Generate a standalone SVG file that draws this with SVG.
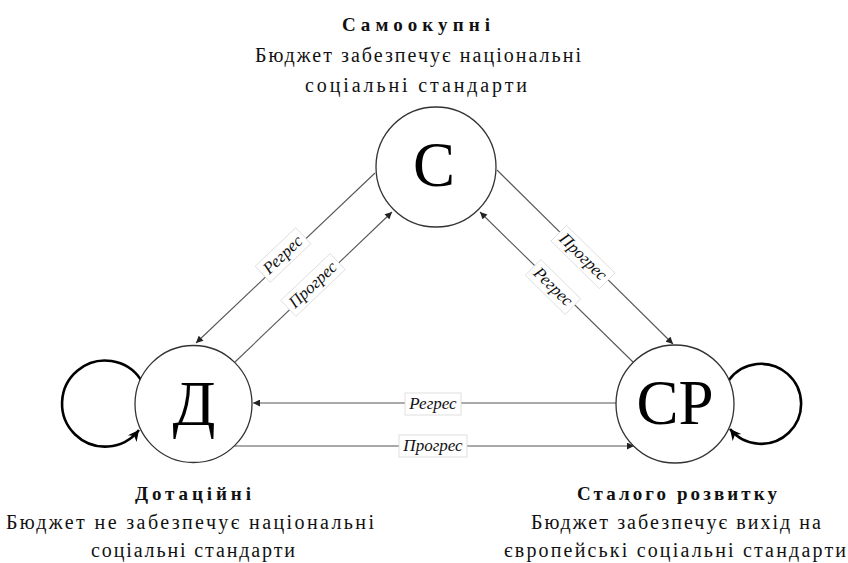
<svg xmlns="http://www.w3.org/2000/svg" width="848" height="563" viewBox="0 0 848 563">
<style>
.node circle{fill:#fff;stroke:#333;stroke-width:1.3}
.big{font-family:"Liberation Serif","Times New Roman",serif;font-size:63px;fill:#000;text-anchor:middle}
.t{font-family:"Liberation Serif","Times New Roman",serif;font-size:20px;fill:#111;text-anchor:middle}
.b{font-weight:bold;font-size:19px}
.edge{stroke:#555;stroke-width:1.1;fill:none;marker-end:url(#a)}
.loop{stroke:#000;stroke-width:2.6;fill:none;marker-end:url(#la)}
.lb rect{fill:#fff;stroke:#d8d8d8;stroke-width:0.8}
.lb text{font-family:"Liberation Serif","Times New Roman",serif;font-style:italic;font-size:17px;fill:#111;text-anchor:middle}
</style>
<defs>
<marker id="a" viewBox="0 0 10 10" refX="10" refY="5" markerWidth="8" markerHeight="7" markerUnits="userSpaceOnUse" orient="auto"><path d="M0,0 L10,5 L0,10 z" fill="#222"/></marker>
<marker id="la" viewBox="0 0 10 10" refX="10" refY="5" markerWidth="14" markerHeight="11" markerUnits="userSpaceOnUse" orient="auto"><path d="M0,0 L10,5 L0,10 L3,5 z" fill="#000"/></marker>
</defs>
<rect width="848" height="563" fill="#fff"/>
<g id="connectors">
<path class="edge" d="M375,173 L196,343"/>
<path class="edge" d="M235,362 L392,212"/>
<path class="edge" d="M497,170 L673,344"/>
<path class="edge" d="M633,362 L480,212"/>
<path class="edge" d="M616,403 L253,403"/>
<path class="edge" d="M234,446 L634,446"/>
<path class="loop" d="M141,380 A43,43 0 1 0 139,430"/>
<path class="loop" d="M729,380 A40,40 0 1 1 730,429"/>
<g class="lb" transform="translate(283,255) rotate(-43.5)"><rect x="-28" y="-11" width="56" height="22"/><text y="5">Регрес</text></g>
<g class="lb" transform="translate(313,285) rotate(-43.5)"><rect x="-34" y="-11" width="68" height="22"/><text y="5">Прогрес</text></g>
<g class="lb" transform="translate(583,257) rotate(44.5)"><rect x="-34" y="-11" width="68" height="22"/><text y="5">Прогрес</text></g>
<g class="lb" transform="translate(553,287) rotate(44.5)"><rect x="-28" y="-11" width="56" height="22"/><text y="5">Регрес</text></g>
<g class="lb" transform="translate(433,404)"><rect x="-28" y="-11" width="56" height="22"/><text y="5">Регрес</text></g>
<g class="lb" transform="translate(433,446)"><rect x="-34" y="-11" width="68" height="22"/><text y="5">Прогрес</text></g>
</g>
<g id="node-s" class="node">
<circle cx="436" cy="167" r="60"/>
<text class="big" x="434" y="186">С</text>
<text class="t b" x="416" y="31" textLength="148" lengthAdjust="spacing">Самоокупні</text>
<text class="t" x="418" y="62" textLength="326" lengthAdjust="spacing">Бюджет забезпечує національні</text>
<text class="t" x="416" y="92" textLength="222" lengthAdjust="spacing">соціальні стандарти</text>
</g>
<g id="node-d" class="node">
<circle cx="193.5" cy="404" r="58.5"/>
<text class="big" x="194" y="425">Д</text>
<text class="t b" x="193" y="500" textLength="116" lengthAdjust="spacing">Дотаційні</text>
<text class="t" x="190" y="529" textLength="368" lengthAdjust="spacing">Бюджет не забезпечує національні</text>
<text class="t" x="193" y="557" textLength="204" lengthAdjust="spacing">соціальні стандарти</text>
</g>
<g id="node-sr" class="node">
<circle cx="675" cy="404" r="59"/>
<text class="big" x="675" y="424">СР</text>
<text class="t b" x="677" y="500" textLength="200" lengthAdjust="spacing">Сталого розвитку</text>
<text class="t" x="676" y="529" textLength="290" lengthAdjust="spacing">Бюджет забезпечує вихід на</text>
<text class="t" x="675" y="557" textLength="342" lengthAdjust="spacing">європейські соціальні стандарти</text>
</g>
</svg>
